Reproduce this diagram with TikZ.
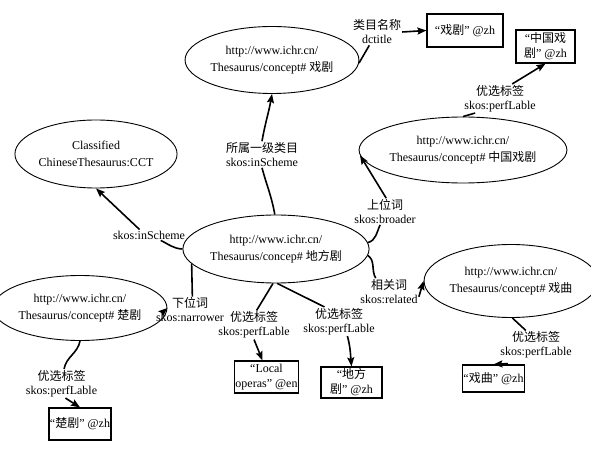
\documentclass[tikz,border=0pt]{standalone}
\usepackage{fontspec}
\setmainfont{Liberation Serif}
\newfontfamily\cjk{Noto Sans CJK SC}
\usetikzlibrary{shapes.geometric,arrows.meta}
\begin{document}
\begin{tikzpicture}[x=1pt,y=1pt,
  ell/.style={draw,ellipse,line width=0.9pt,minimum width=152pt,minimum height=67pt,inner sep=0pt,align=center,font=\fontsize{12}{17}\selectfont},
  lit/.style={draw,rectangle,line width=1.2pt,align=center,inner sep=1pt,font=\fontsize{12}{15}\selectfont},
  lab/.style={align=center,inner sep=1pt,font=\fontsize{12}{14}\selectfont},
  seg/.style={line width=1.6pt},
  arr/.style={line width=1.6pt,-{Stealth[length=9pt,width=7pt,inset=1.5pt]}}]
\useasboundingbox (0,0) rectangle (591,450);
\fill[white] (0,0) rectangle (591,450);

% ellipses
\node[ell] (E1) at (272,390) {http://www.ichr.cn/\\Thesaurus/concept\# {\cjk 戏剧}};
\node[ell,minimum height=68pt] (E2) at (96,296) {Classified\\ChineseThesaurus:CCT};
\node[ell,minimum width=153pt,minimum height=68pt] (E3) at (276,201) {http://www.ichr.cn/\\Thesaurus/concep\# {\cjk 地方剧}};
\node[ell,minimum width=153pt,minimum height=66pt] (E4) at (463,300) {http://www.ichr.cn/\\Thesaurus/concept\# {\cjk 中国戏剧}};
\node[ell,minimum width=153pt,minimum height=73pt] (E5) at (511,169) {http://www.ichr.cn/\\Thesaurus/concept\# {\cjk 戏曲}};
\node[ell,minimum width=150pt,minimum height=65pt] (E6) at (80,142) {http://www.ichr.cn/\\Thesaurus/concept\# {\cjk 楚剧}};

% literal boxes
\node[lit,minimum width=76pt,minimum height=33pt] (B1) at (465,419.5) {“{\cjk 戏剧}” @zh};
\node[lit,minimum width=59pt,minimum height=33pt] (B2) at (545.5,403.5) {“{\cjk 中国戏}\\{\cjk 剧}” @zh};
\node[lit,minimum width=60pt,minimum height=32pt] (B3) at (80,26) {“{\cjk 楚剧}” @zh};
\node[lit,minimum width=61pt,minimum height=32pt] (B4) at (266.5,73) {“Local\\operas” @en};
\node[lit,minimum width=61pt,minimum height=31pt] (B5) at (351.5,67.5) {“{\cjk 地方}\\{\cjk 剧}” @zh};
\node[lit,minimum width=59pt,minimum height=27pt] (B6) at (493.5,71.5) {“{\cjk 戏曲}” @zh};

% edge labels
\node[lab] (L1) at (262,295.5) {{\cjk 所属一级类目}\\skos:inScheme};
\node[lab] (L2) at (377,418) {{\cjk 类目名称}\\dctitle};
\node[lab] (L3) at (385,238.5) {{\cjk 上位词}\\skos:broader};
\node[lab] (L4) at (500,351.5) {{\cjk 优选标签}\\skos:perfLable};
\node[lab] (L5) at (149,215) {skos:inScheme};
\node[lab] (L6) at (190,140) {{\cjk 下位词}\\skos:narrower};
\node[lab] (L7) at (254,125) {{\cjk 优选标签}\\skos:perfLable};
\node[lab] (L8) at (339,128.5) {{\cjk 优选标签}\\skos:perfLable};
\node[lab] (L9) at (389,158.5) {{\cjk 相关词}\\skos:related};
\node[lab] (L10) at (536,105) {{\cjk 优选标签}\\skos:perfLable};
\node[lab] (L11) at (61.5,66.5) {{\cjk 优选标签}\\skos:perfLable};

% connectors
\draw[seg] (E3.92) to[out=100,in=-75] (L1.south);
\draw[arr] (L1.north) to[out=80,in=-100] (E1.south);

\draw[seg] (E1.-2) -- (L2.240);
\draw[arr] (L2.east) -- (B1.west);

\draw[seg] (E3.4) to[out=15,in=-115] (L3.250);
\draw[arr] (L3.85) -- (E4.183);

\draw[seg] (E4.north) -- ([xshift=12pt]L4.south west);
\draw[arr] (L4.50) -- (B2.south);

\draw[seg] (E3.west) to[out=178,in=-25] (L5.-25);
\draw[arr] (L5.150) -- (E2.south);

\draw[seg] (E3.190) -- (L6.80);
\draw[arr] ([shift={(8pt,-2pt)}]L6.west) -- (E6.east);

\draw[seg] (E3.-95) -- (L7.80);
\draw[arr] (L7.south) -- ([xshift=-4pt]B4.north);

\draw[seg] (E3.-88) -- (L8.135);
\draw[arr] (L8.-60) to[out=-75,in=95] (B5.north);

\draw[seg] (E3.-4) to[out=-35,in=120] (L9.135);
\draw[arr] (L9.-10) -- (E5.west);

\draw[seg] (E5.-88) -- (L10.125);
\draw[arr] ([shift={(-28pt,-4pt)}]L10.south) -- (B6.north);

\draw[seg] (E6.south) to[out=-100,in=80] (L11.80);
\draw[arr] (L11.-75) -- (B3.north);
\end{tikzpicture}
\end{document}
